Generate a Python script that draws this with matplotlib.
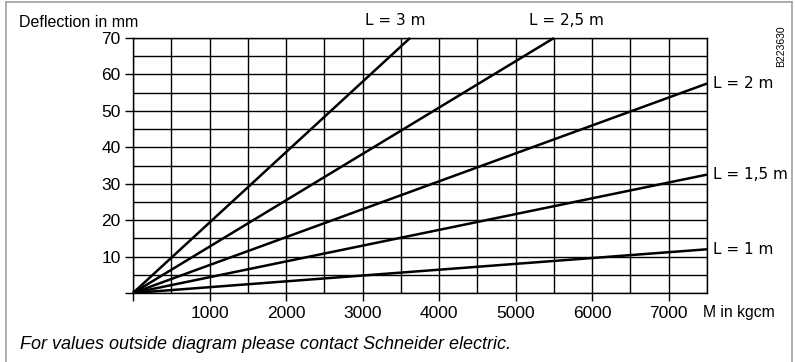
import matplotlib
matplotlib.use("Agg")
import matplotlib.pyplot as plt
from matplotlib.lines import Line2D
import numpy as np

# deflection curves: moment (kgcm) -> deflection (mm), per span length
labels = ["L = 3 m", "L = 2,5 m", "L = 2 m", "L = 1,5 m", "L = 1 m"]
m_start = [0, 0, 0, 0, 0]
m_end = [3620, 5500, 7500, 7500, 7500]
d_end = [70, 70, 57.5, 32.5, 12]

xticks = [0, 1000, 2000, 3000, 4000, 5000, 6000, 7000]
xticklabels = ["", "1000", "2000", "3000", "4000", "5000", "6000", "7000"]
yticks = [0, 10, 20, 30, 40, 50, 60, 70]
yticklabels = ["", "10", "20", "30", "40", "50", "60", "70"]

plt.rcParams["font.family"] = ["Liberation Sans", "DejaVu Sans"]

fig = plt.figure(figsize=(7.95, 3.62), dpi=100)
ax = fig.add_axes([0.1673, 0.1906, 0.722, 0.7044])

for i in range(len(labels)):
    ax.plot([m_start[i], m_end[i]], [0, d_end[i]], color="black", lw=1.8,
            solid_capstyle="butt", clip_on=False, zorder=3)

ax.set_xlim(0, 7500)
ax.set_ylim(0, 70)
ax.set_xticks(np.arange(0, 7501, 500), minor=True)
ax.set_yticks(np.arange(0, 71, 5), minor=True)
ax.grid(which="both", color="black", lw=1.0)
ax.tick_params(which="minor", length=0)
ax.set_xticks(xticks)
ax.set_xticklabels(xticklabels)
ax.set_yticks(yticks)
ax.set_yticklabels(yticklabels)
ax.tick_params(which="major", direction="out", length=6, width=1, color="black",
               labelsize=12.5, pad=3)
for s in ax.spines.values():
    s.set_linewidth(1.0)

# line labels
ax.text(3430, 72.8, labels[0], fontsize=11, ha="center", va="bottom",
        family=["DejaVu Sans"])
ax.text(5660, 72.8, labels[1], fontsize=11, ha="center", va="bottom",
        family=["DejaVu Sans"])
for i in range(2, 5):
    ax.text(7580, d_end[i], labels[i], fontsize=11, ha="left", va="center",
            family=["DejaVu Sans"])

fig.text(0.024, 0.937, "Deflection in mm", fontsize=11.5, ha="left", va="center")
fig.text(0.884, 0.137, "M in kgcm", fontsize=11.3, ha="left", va="center")
fig.text(0.025, 0.047, "For values outside diagram please contact Schneider electric.",
         fontsize=13, style="italic", ha="left", va="center")
fig.text(0.982, 0.93, "B223630", fontsize=7.5, rotation=90, ha="center", va="top")

# outer frame
frame_c = "#a0a0a0"
fig.add_artist(Line2D([0.008, 0.008], [0, 0.995], color=frame_c, lw=1.2))
fig.add_artist(Line2D([0.996, 0.996], [0, 0.995], color=frame_c, lw=1.2))
fig.add_artist(Line2D([0.008, 0.996], [0.995, 0.995], color=frame_c, lw=1.2))

fig.savefig("out.png", dpi=100)
